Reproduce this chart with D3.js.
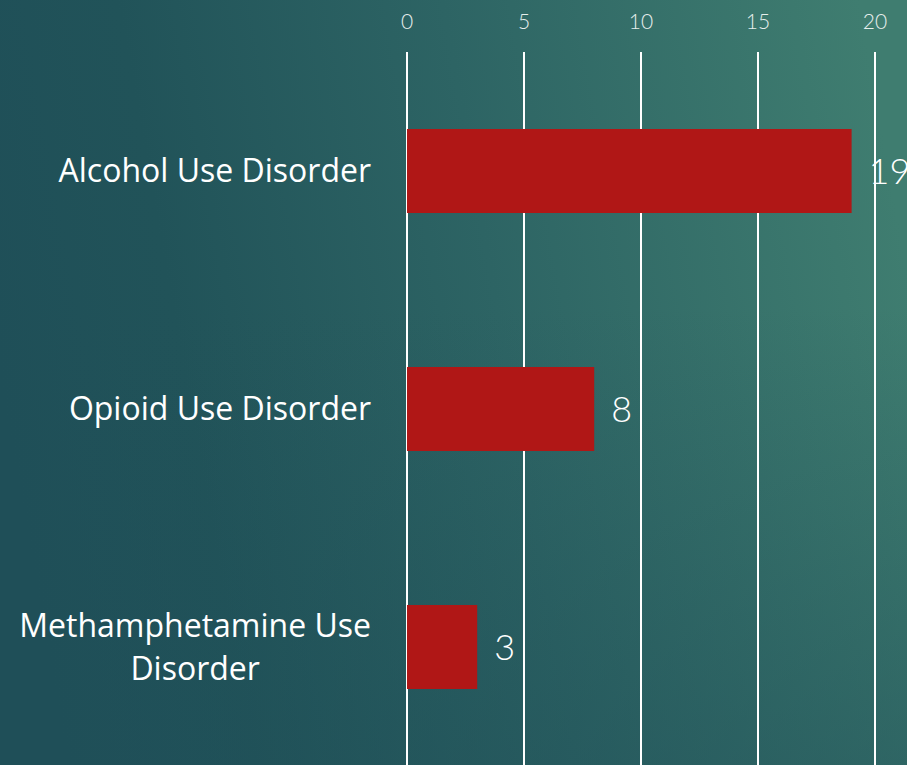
<!DOCTYPE html>
<html>
<head>
<meta charset="utf-8">
<script src="https://cdn.jsdelivr.net/npm/d3@7"></script>
<style>
  html, body { margin: 0; padding: 0; overflow: hidden; }
  svg { display: block; }
</style>
</head>
<body>
<svg id="chart"></svg>
<script>
var categories = ["Alcohol Use Disorder", "Opioid Use Disorder", "Methamphetamine Use Disorder"];
var labelLines = [["Alcohol Use Disorder"], ["Opioid Use Disorder"], ["Methamphetamine Use", "Disorder"]];
var values = [19, 8, 3];
var tickValues = [0, 5, 10, 15, 20];

var W = 907, H = 765;
var svg = d3.select("#chart").attr("width", W).attr("height", H);

// background gradient
var defs = svg.append("defs");
var lg = defs.append("linearGradient").attr("id", "bg")
    .attr("x1", "0%").attr("y1", "50%").attr("x2", "100%").attr("y2", "35%");
lg.append("stop").attr("offset", "0%").attr("stop-color", "#1f4f58");
lg.append("stop").attr("offset", "20%").attr("stop-color", "#215359");
lg.append("stop").attr("offset", "55%").attr("stop-color", "#2d6464");
lg.append("stop").attr("offset", "100%").attr("stop-color", "#3f7d70");
var shade = defs.append("linearGradient").attr("id", "shade")
    .attr("x1", "0%").attr("y1", "40%").attr("x2", "0%").attr("y2", "100%");
shade.append("stop").attr("offset", "0%").attr("stop-color", "#1f4f58").attr("stop-opacity", 0);
shade.append("stop").attr("offset", "100%").attr("stop-color", "#1f4f58").attr("stop-opacity", 0.45);

svg.append("rect").attr("width", W).attr("height", H).attr("fill", "url(#bg)");
svg.append("rect").attr("width", W).attr("height", H).attr("fill", "url(#shade)");

var x = d3.scaleLinear().domain([0, 20]).range([407, 875]);
var y = d3.scaleBand().domain(categories).range([52, 766]).paddingInner(0.647).paddingOuter(0.3235);

// gridlines
svg.append("g").selectAll("line")
    .data(tickValues)
    .enter().append("line")
    .attr("x1", d => x(d)).attr("x2", d => x(d))
    .attr("y1", 52).attr("y2", H)
    .style("stroke", "#ffffff")
    .style("stroke-width", "2px");

// top tick labels
svg.append("g").selectAll("text")
    .data(tickValues)
    .enter().append("text")
    .attr("x", d => x(d))
    .attr("y", 22)
    .attr("dy", "0.35em")
    .attr("text-anchor", "middle")
    .style("font-family", "Lato, 'DejaVu Sans', sans-serif")
    .style("font-weight", 300)
    .style("font-size", "21px")
    .style("fill", "#e6eeec")
    .text(d => d);

// bars
svg.append("g").selectAll("rect")
    .data(values)
    .enter().append("rect")
    .attr("x", x(0))
    .attr("y", (d, i) => y(categories[i]))
    .attr("width", d => x(d) - x(0))
    .attr("height", y.bandwidth())
    .style("fill", "#b01716");

// value labels
svg.append("g").selectAll("text")
    .data(values)
    .enter().append("text")
    .attr("x", d => x(d) + 17)
    .attr("y", (d, i) => y(categories[i]) + y.bandwidth() / 2)
    .attr("dy", "0.36em")
    .style("font-family", "Lato, 'DejaVu Sans', sans-serif")
    .style("font-weight", 300)
    .style("font-size", "36px")
    .style("fill", "#ffffff")
    .text(d => d);

// category labels (right aligned block, lines centred within it)
var labelRight = 371;
var catG = svg.append("g");
labelLines.forEach(function (lines, i) {
    var cy = y(categories[i]) + y.bandwidth() / 2;
    var lineH = 43;
    var t = catG.append("text")
        .style("font-family", "'Open Sans', sans-serif")
        .style("font-size", "32px")
        .style("fill", "#ffffff");
    var spans = lines.map(function (ln, k) {
        return t.append("tspan")
            .attr("y", cy + (k - (lines.length - 1) / 2) * lineH)
            .attr("dy", "0.35em")
            .text(ln);
    });
    var maxW = d3.max(spans, s => s.node().getComputedTextLength());
    spans.forEach(function (s) {
        s.attr("text-anchor", "middle").attr("x", labelRight - maxW / 2);
    });
});
</script>
</body>
</html>
